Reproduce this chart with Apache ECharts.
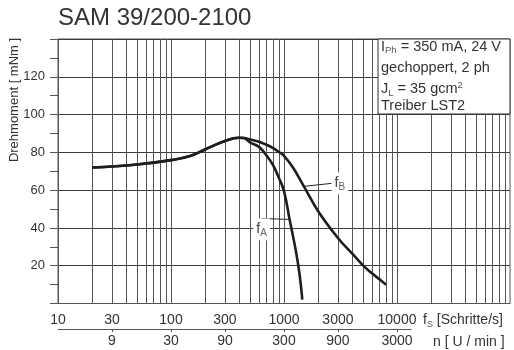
<!DOCTYPE html>
<html>
<head>
<meta charset="utf-8">
<script src="https://cdn.jsdelivr.net/npm/echarts@6/dist/echarts.min.js"></script>
<style>
  html, body { margin: 0; padding: 0; background: #fff; }
  #chart { width: 514px; height: 350px; }
</style>
</head>
<body>
<div id="chart"></div>
<script>
// axis labels
const fLabels = [10, 30, 100, 300, 1000, 3000, 10000];
const nLabels = [9, 30, 90, 300, 900, 3000];
const torqueLabels = [20, 40, 60, 80, 100, 120];
// vertical grid lines of the log paper
const gridFreq = [
  20, 30, 40, 50, 60, 70, 80, 90, 100,
  200, 300, 400, 500, 600, 700, 800, 900, 1000,
  2000, 3000, 4000, 5000, 6000, 7000, 8000, 9000, 10000,
  20000, 30000, 40000, 50000, 60000, 70000, 80000, 90000
];

// common part of both curves (fS in steps/s, torque in mNm)
const baseFreq = [20, 50, 100, 150, 200, 300, 400, 440];
const baseTorque = [72, 73.6, 75.9, 78.2, 81.5, 86, 87.7, 87.6];
// fA branch
const fAFreq = [500, 600, 700, 800, 900, 1000, 1121, 1274, 1375, 1452];
const fATorque = [85.3, 82.9, 78.3, 73.2, 66.5, 59.5, 44.5, 27.8, 15.2, 2];
// fB branch
const fBFreq = [500, 600, 700, 800, 900, 1000, 1200, 1500, 2000, 3000, 4000, 5000, 6000, 7000, 8000];
const fBTorque = [86.8, 85.6, 84.0, 82.2, 80.2, 78.2, 72.0, 62.0, 49.0, 34.7, 26.5, 20.2, 16.0, 12.8, 9.9];

const labelAtA = 1121;
const labelAtB = 1500;

const stepsPerRev = 200;
const nFactor = 60 / stepsPerRev;

const fMin = 10, fMax = 100000;
const nMin = fMin * nFactor, nMax = 4000;

const plotLeft = 58, plotRight = 4, plotTop = 39, plotBottom = 46.5;
const plotWidth = 514 - plotLeft - plotRight;
const decadePx = plotWidth / Math.log10(fMax / fMin);
const nAxisWidth = decadePx * Math.log10(nMax / nMin);

const textColor = '#333';
const lineColor = '#555';
const font = 'Liberation Sans, Arial, sans-serif';

function buildSeries(freq, torque, labelAt, label) {
  return freq.map((f, i) => {
    const item = { value: [f, torque[i]] };
    if (f === labelAt) {
      item.label = {
        show: true,
        position: 'inside',
        formatter: '{f|f}{s|' + label + '}',
        backgroundColor: '#fff',
        padding: [2, 3],
        rich: {
          f: { fontSize: 14, color: '#444', fontFamily: font, lineHeight: 18 },
          s: { fontSize: 10, color: '#666', fontFamily: font, verticalAlign: 'bottom', lineHeight: 11 }
        }
      };
    }
    return item;
  });
}

const chart = echarts.init(document.getElementById('chart'), null, { renderer: 'canvas' });

const curveStyle = { color: '#1e1e1e', width: 2.6 };

const textStyle = (extra) => Object.assign({
  fill: textColor, fontSize: 13, fontFamily: font,
  align: 'left', verticalAlign: 'middle', textAlign: 'left', textVerticalAlign: 'middle'
}, extra);

const subStyle = { fontSize: 9.5, fill: '#555', verticalAlign: 'bottom', lineHeight: 10 };
const supStyle = { fontSize: 9.5, fill: '#555', verticalAlign: 'top', lineHeight: 10 };

const option = {
  animation: false,
  backgroundColor: '#fff',
  grid: [
    { left: plotLeft, right: plotRight, top: plotTop, bottom: plotBottom,
      show: true, borderColor: lineColor, borderWidth: 1, backgroundColor: 'transparent' },
    { left: plotLeft, width: nAxisWidth, top: 320, height: 9 }
  ],
  xAxis: [
    {
      type: 'log', gridIndex: 0, min: fMin, max: fMax, logBase: 10,
      axisLine: { show: true, lineStyle: { color: lineColor, width: 1 } },
      axisTick: { show: false },
      splitLine: { show: false },
      axisLabel: {
        customValues: fLabels, margin: 10, color: textColor, fontSize: 14, fontFamily: font,
        formatter: v => String(Math.round(v))
      }
    },
    {
      type: 'log', gridIndex: 1, min: nMin, max: nMax, logBase: 10, position: 'bottom',
      axisLine: { show: true, lineStyle: { color: lineColor, width: 1 } },
      axisTick: { show: true, customValues: nLabels, length: 3, lineStyle: { color: lineColor } },
      splitLine: { show: false },
      axisLabel: {
        customValues: nLabels, margin: 5, color: textColor, fontSize: 14, fontFamily: font,
        formatter: v => String(Math.round(v))
      }
    }
  ],
  yAxis: [
    {
      type: 'value', gridIndex: 0, min: 0, max: 140, interval: 20,
      axisLine: { show: true, lineStyle: { color: lineColor } },
      axisTick: { show: true, length: 8, lineStyle: { color: lineColor } },
      minorTick: { show: true, splitNumber: 2, length: 8, lineStyle: { color: lineColor } },
      splitLine: { show: true, lineStyle: { color: '#3a3a3a', width: 1 } },
      axisLabel: { customValues: torqueLabels, margin: 13, color: textColor, fontSize: 13, fontFamily: font }
    },
    { type: 'value', gridIndex: 1, show: false, min: 0, max: 1 }
  ],
  series: [
    {
      name: 'grid', type: 'line', xAxisIndex: 0, yAxisIndex: 0, data: [], silent: true, z: 1,
      markLine: {
        silent: true, symbol: 'none', z: 1, animation: false,
        label: { show: false },
        lineStyle: { color: lineColor, width: 1, type: 'solid' },
        data: gridFreq.map(v => ({ xAxis: v }))
      }
    },
    {
      name: 'fA', type: 'line', xAxisIndex: 0, yAxisIndex: 0, z: 3,
      smooth: 0.45, showSymbol: true, symbol: 'circle', symbolSize: 0,
      lineStyle: curveStyle,
      data: buildSeries(baseFreq.concat(fAFreq), baseTorque.concat(fATorque), labelAtA, 'A'),
      labelLayout: { dx: -28, dy: 10 },
      labelLine: { show: true, lineStyle: { color: '#222', width: 1 } }
    },
    {
      name: 'fB', type: 'line', xAxisIndex: 0, yAxisIndex: 0, z: 3,
      smooth: 0.45, showSymbol: true, symbol: 'circle', symbolSize: 0,
      lineStyle: curveStyle,
      data: buildSeries(baseFreq.concat(fBFreq), baseTorque.concat(fBTorque), labelAtB, 'B'),
      labelLayout: { dx: 36, dy: -3 },
      labelLine: { show: true, lineStyle: { color: '#222', width: 1 } }
    }
  ],
  graphic: [
    {
      type: 'text', x: 58, y: 18, z: 10,
      style: textStyle({ text: 'SAM 39/200-2100', fontSize: 24 })
    },
    {
      type: 'text', x: 14, y: 100, rotation: Math.PI / 2, z: 10,
      style: textStyle({ text: 'Drehmoment [ mNm ]', align: 'center', textAlign: 'center' })
    },
    {
      type: 'text', x: 423, y: 320, z: 10,
      style: textStyle({ text: 'f{s|S} [Schritte/s]', fontSize: 14, lineHeight: 18,
        rich: { s: { fontSize: 9, fill: '#555', verticalAlign: 'bottom', lineHeight: 10 } } })
    },
    {
      type: 'text', x: 433, y: 342, z: 10,
      style: textStyle({ text: 'n [ U / min ]', fontSize: 14 })
    },
    {
      type: 'rect', x: 378, y: 39, z: 100,
      shape: { x: 0, y: 0, width: 132, height: 75 },
      style: { fill: '#fff', stroke: '#333', lineWidth: 1 }
    },
    {
      type: 'text', x: 381, y: 46.5, z: 101,
      style: textStyle({ text: 'I{s|Ph} = 350 mA, 24 V', fontSize: 14.5, lineHeight: 18, rich: { s: subStyle } })
    },
    {
      type: 'text', x: 381, y: 67.5, z: 101,
      style: textStyle({ text: 'gechoppert, 2 ph', fontSize: 14.5 })
    },
    {
      type: 'text', x: 381, y: 89, z: 101,
      style: textStyle({ text: 'J{s|L} = 35 gcm{p|2}', fontSize: 14.5, lineHeight: 18,
        rich: { s: subStyle, p: supStyle } })
    },
    {
      type: 'text', x: 381, y: 105.5, z: 101,
      style: textStyle({ text: 'Treiber LST2', fontSize: 14.5 })
    }
  ]
};

chart.setOption(option);
</script>
</body>
</html>
